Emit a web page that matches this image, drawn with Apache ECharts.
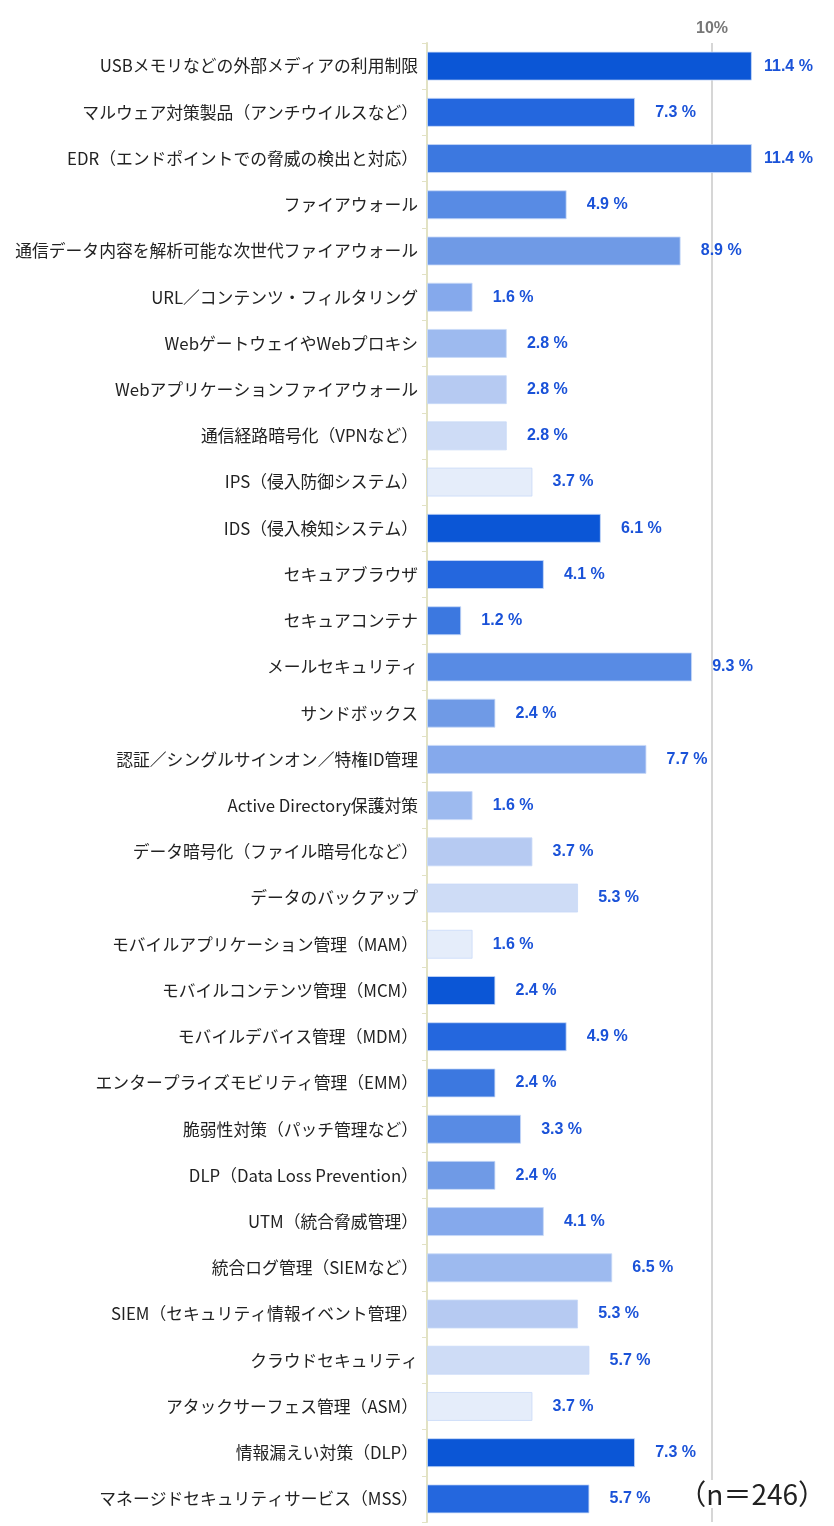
<!DOCTYPE html>
<html><head><meta charset="utf-8">
<script src="https://cdn.jsdelivr.net/npm/echarts@6/dist/echarts.min.js"></script>
<style>html,body{margin:0;padding:0;background:#fff}#c{width:834px;height:1526px}</style>
</head><body><div id="c"></div>
<script>
const categories = [
  'USBメモリなどの外部メディアの利用制限',
  'マルウェア対策製品（アンチウイルスなど）',
  'EDR（エンドポイントでの脅威の検出と対応）',
  'ファイアウォール',
  '通信データ内容を解析可能な次世代ファイアウォール',
  'URL／コンテンツ・フィルタリング',
  'WebゲートウェイやWebプロキシ',
  'Webアプリケーションファイアウォール',
  '通信経路暗号化（VPNなど）',
  'IPS（侵入防御システム）',
  'IDS（侵入検知システム）',
  'セキュアブラウザ',
  'セキュアコンテナ',
  'メールセキュリティ',
  'サンドボックス',
  '認証／シングルサインオン／特権ID管理',
  'Active Directory保護対策',
  'データ暗号化（ファイル暗号化など）',
  'データのバックアップ',
  'モバイルアプリケーション管理（MAM）',
  'モバイルコンテンツ管理（MCM）',
  'モバイルデバイス管理（MDM）',
  'エンタープライズモビリティ管理（EMM）',
  '脆弱性対策（パッチ管理など）',
  'DLP（Data Loss Prevention）',
  'UTM（統合脅威管理）',
  '統合ログ管理（SIEMなど）',
  'SIEM（セキュリティ情報イベント管理）',
  'クラウドセキュリティ',
  'アタックサーフェス管理（ASM）',
  '情報漏えい対策（DLP）',
  'マネージドセキュリティサービス（MSS）'
];
const values = [11.4, 7.3, 11.4, 4.9, 8.9, 1.6, 2.8, 2.8, 2.8, 3.7,
                6.1, 4.1, 1.2, 9.3, 2.4, 7.7, 1.6, 3.7, 5.3, 1.6,
                2.4, 4.9, 2.4, 3.3, 2.4, 4.1, 6.5, 5.3, 5.7, 3.7,
                7.3, 5.7];
const xTickLabels = { 10: '10%' };
const sampleNote = '（n＝246）';

const palette = ['#0b56d6','#2467de','#3c78e0','#588be4','#6f9ae6','#85a9ec','#9dbaef','#b6caf2','#cedcf6','#e5edfa'];

const chart = echarts.init(document.getElementById('c'), null, {renderer:'canvas'});
chart.setOption({
  animation: false,
  backgroundColor: '#fff',
  grid: { left: 427, right: 8, top: 43, bottom: 4, containLabel: false },
  xAxis: {
    type: 'value', position: 'top', min: 0, max: 14, interval: 10,
    axisLine: { show: false }, axisTick: { show: false },
    axisLabel: {
      margin: 6,
      formatter: v => xTickLabels[v] || '',
      color: '#777', fontSize: 16, fontWeight: 'bold', fontFamily: 'Liberation Sans, Arial, sans-serif'
    },
    splitLine: { show: true, showMinLine: false, showMaxLine: false, lineStyle: { color: '#d6d6d6', width: 2 } }
  },
  yAxis: {
    type: 'category', inverse: true, data: categories,
    axisLine: { show: true, lineStyle: { color: '#e2e2c4', width: 2 } },
    axisTick: { show: true, length: 5, lineStyle: { color: '#e2e2c4', width: 1 } },
    axisLabel: { margin: 9, color: '#222', fontSize: 16.8, fontFamily: '"Noto Sans CJK JP", sans-serif' }
  },
  series: [{
    type: 'bar',
    data: values,
    barWidth: 29,
    z: 3,
    itemStyle: {
      color: p => palette[p.dataIndex % palette.length],
      borderColor: 'rgba(200,218,248,0.8)', borderWidth: 1
    },
    label: {
      show: true, position: 'right', distance: 61, align: 'right',
      formatter: p => p.value.toFixed(1) + ' %',
      color: '#1a52d8', fontSize: 16, fontWeight: 'bold', fontFamily: 'Liberation Sans, Arial, sans-serif'
    }
  }],
  graphic: [{
    type: 'text', right: 8, top: 1480, z: 100,
    style: { text: sampleNote, fill: '#222', backgroundColor: '#fff',
             font: '28px "Noto Sans CJK JP", sans-serif' }
  }]
});
</script></body></html>
